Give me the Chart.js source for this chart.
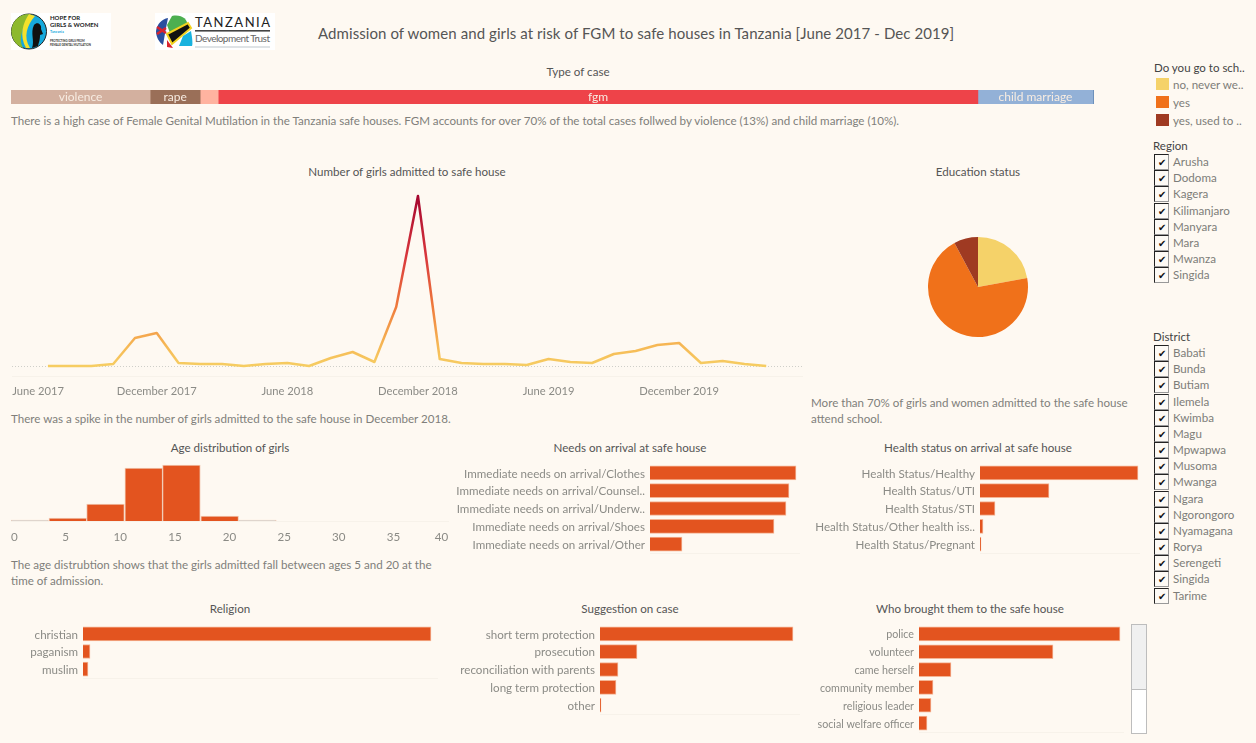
<!DOCTYPE html>
<html>
<head>
<meta charset="utf-8">
<script src="https://cdn.jsdelivr.net/npm/chart.js@4"></script>
<style>
    html, body { margin: 0; padding: 0; background: #fef9f2; }
    body { position: relative; width: 1256px; height: 743px; overflow: hidden; font-family: Lato, sans-serif; color: #7d7d79; font-size: 11.6px; }
    canvas { position: absolute; }
    .txt { position: absolute; white-space: nowrap; line-height: 16px; }
    .head { color: #555; font-size: 11.6px; transform: translateX(-50%); }
    .note { color: #807f7b; font-size: 11.6px; }
    .filterTitle { color: #444; font-size: 11.5px; }
    .swatch { position: absolute; left: 1156px; width: 13px; height: 12px; }
    .box { position: absolute; left: 1154px; width: 13px; height: 14px; border: 1px solid #222; border-right-color: #999; border-bottom-color: #999; background: #fdfaf5; color: #111; font-size: 10px; line-height: 14px; text-align: center; }
    #scrollbar { position: absolute; left: 1131px; top: 624px; width: 14px; height: 108px; border: 1px solid #bdbdbd; background: #fff; }
    #scrollthumb { height: 64px; background: #f0f0f0; border-bottom: 1px solid #bdbdbd; }
</style>
</head>
<body>
<svg style="position:absolute;left:11px;top:13px" width="100" height="37" viewBox="0 0 100 37">
    <rect width="100" height="37" fill="#fff"/>
    <circle cx="18" cy="18.5" r="17.5" fill="#16a9dc" stroke="#222" stroke-width="1"/>
    <path d="M18 1 A17.5 17.5 0 0 0 12 35 C6 24 14 12 18 1Z" fill="#8db92e"/>
    <path d="M18 1 C12 10 8 22 15 35 L19 35 C12 24 16 12 24 3Z" fill="#f5e12b"/>
    <path d="M21 35 C24 28 19 20 23 12 C26 8 31 11 30 16 L32 21 L29 22 C29 27 28 29 27 33Z" fill="#111"/>
    <text x="39" y="7" font-size="6" font-weight="700" fill="#222">HOPE FOR</text>
    <text x="39" y="14" font-size="6" font-weight="700" fill="#222">GIRLS &amp; WOMEN</text>
    <text x="39" y="20" font-size="3.6" font-weight="700" fill="#16a9dc">Tanzania</text>
    <text x="39" y="29" font-size="2.8" font-weight="700" fill="#333">PROTECTING GIRLS FROM</text>
    <text x="39" y="33" font-size="2.8" font-weight="700" fill="#333">FEMALE GENITAL MUTILATION</text>
</svg>
<svg style="position:absolute;left:155px;top:13px" width="120" height="37" viewBox="0 0 120 37">
    <rect width="120" height="37" fill="#fff"/>
    <path d="M17 3 C26 1 33 6 32 12 L15 20 L12 12Z" fill="#4caf50"/>
    <path d="M12 21 L33 10 L36 15 L17 31Z" fill="#111" stroke="#f2d21f" stroke-width="2"/>
    <path d="M28 23 L36 18 C37 24 38 30 37 33 L24 33Z" fill="#19b2de"/>
    <path d="M1 18 C2 11 7 6 13 5 L11 15 L8 32 C4 29 1 24 1 18Z" fill="#2b4f9e"/>
    <path d="M2 14 L11 20 M2 21 L11 15" stroke="#d8232f" stroke-width="2.5"/>
    <path d="M12 27 L18 35 L12 34Z" fill="#d8232f"/>
    <text x="40" y="14" font-size="13" fill="#222" textLength="75" font-family="Lato">TANZANIA</text>
    <rect x="40" y="17" width="75" height="1.6" fill="#444"/>
    <text x="40" y="29" font-size="10" fill="#666" textLength="75" font-family="Lato">Development Trust</text>
    <rect x="40" y="33" width="75" height="2" fill="#dfe3e6"/>
</svg>

<div class="txt" style="left:318px;top:24px;font-size:15px;line-height:18px;color:#555;letter-spacing:0.08px">Admission of women and girls at risk of FGM to safe houses in Tanzania [June 2017 - Dec 2019]</div>
<div class="txt head" style="left:578px;top:64px">Type of case</div>
<div class="txt note" style="left:11px;top:113px">There is a high case of Female Genital Mutilation in the Tanzania safe houses. FGM accounts for over 70% of the total cases follwed by violence (13%) and child marriage (10%).</div>
<div class="txt head" style="left:407px;top:164px">Number of girls admitted to safe house</div>
<div class="txt head" style="left:978px;top:164px">Education status</div>
<div class="txt note" style="left:11px;top:411px">There was a spike in the number of girls admitted to the safe house in December 2018.</div>
<div class="txt note" style="left:811px;top:395px">More than 70% of girls and women admitted to the safe house<br>attend school.</div>
<div class="txt head" style="left:230px;top:440px">Age distribution of girls</div>
<div class="txt head" style="left:630px;top:440px">Needs on arrival at safe house</div>
<div class="txt head" style="left:978px;top:440px">Health status on arrival at safe house</div>
<div class="txt note" style="left:11px;top:557px">The age distrubtion shows that the girls admitted fall between ages 5 and 20 at the<br>time of admission.</div>
<div class="txt head" style="left:230px;top:601px">Religion</div>
<div class="txt head" style="left:630px;top:601px">Suggestion on case</div>
<div class="txt head" style="left:970px;top:601px">Who brought them to the safe house</div>

<div id="filters"></div>
<div id="scrollbar"><div id="scrollthumb"></div></div>

<canvas id="caseBar" style="left:11px;top:90px" width="1083" height="14"></canvas>
<canvas id="lineChart" style="left:12px;top:189px" width="791" height="212"></canvas>
<canvas id="pieChart" style="left:918px;top:227px" width="120" height="120"></canvas>
<canvas id="ageChart" style="left:11px;top:460px" width="450" height="92"></canvas>
<canvas id="needsChart" style="left:450px;top:464px" width="350" height="90"></canvas>
<canvas id="healthChart" style="left:800px;top:464px" width="340" height="90"></canvas>
<canvas id="religionChart" style="left:0px;top:625px" width="438" height="54"></canvas>
<canvas id="suggestionChart" style="left:450px;top:625px" width="350" height="90"></canvas>
<canvas id="broughtChart" style="left:799px;top:625px" width="325" height="108"></canvas>

<script>
    const caseTypes = ["violence", "rape", "", "fgm", "child marriage", ""];
    const caseValues = [139, 50, 18, 759, 115, 1];
    const caseColors = ["#d3b09f", "#9a6f58", "#ffb3a0", "#ee4349", "#93b1d7", "#5b82ad"];

    const lineValues = [0, 0, 0, 1, 14, 16.5, 1.5, 1, 1, 0, 1, 1.5, 0, 4, 7, 2, 29.5, 85,
        3.5, 1.5, 1, 1, 0.5, 3.5, 2, 1.5, 6, 7.5, 10.5, 11.5, 1.5, 2.5, 1, 0];
    const lineTickMonths = [-0.45, 5, 11, 17, 23, 29];
    const lineTickLabels = ["June 2017", "December 2017", "June 2018", "December 2018", "June 2019", "December 2019"];

    const schoolLabels = ["no, never we..", "yes", "yes, used to .."];
    const schoolValues = [22.1, 70.1, 7.8];
    const schoolColors = ["#f5d269", "#f0711a", "#9f3a22"];

    const ageBinCenters = [1.7, 5.2, 8.65, 12.15, 15.6, 19.1, 22.55];
    const ageValues = [0, 3, 17, 53, 56, 5, 0];
    const ageTickPositions = [0.3, 5, 10, 15, 20, 25, 30, 35, 39.4];
    const ageTickLabels = ["0", "5", "10", "15", "20", "25", "30", "35", "40"];

    const needsLabels = ["Immediate needs on arrival/Clothes", "Immediate needs on arrival/Counsel..", "Immediate needs on arrival/Underw..", "Immediate needs on arrival/Shoes", "Immediate needs on arrival/Other"];
    const needsValues = [146, 139, 136, 124, 32];
    const healthLabels = ["Health Status/Healthy", "Health Status/UTI", "Health Status/STI", "Health Status/Other health iss..", "Health Status/Pregnant"];
    const healthValues = [158, 69, 15, 3, 1];
    const religionLabels = ["christian", "paganism", "muslim"];
    const religionValues = [348, 7, 5];
    const suggestionLabels = ["short term protection", "prosecution", "reconciliation with parents", "long term protection", "other"];
    const suggestionValues = [193, 37, 18, 16, 1];
    const broughtLabels = ["police", "volunteer", "came herself", "community member", "religious leader", "social welfare officer"];
    const broughtValues = [201, 134, 32, 14, 12, 8];

    const regions = ["Arusha", "Dodoma", "Kagera", "Kilimanjaro", "Manyara", "Mara", "Mwanza", "Singida"];
    const districts = ["Babati", "Bunda", "Butiam", "Ilemela", "Kwimba", "Magu", "Mpwapwa", "Musoma", "Mwanga", "Ngara", "Ngorongoro", "Nyamagana", "Rorya", "Serengeti", "Singida", "Tarime"];

    const barColor = "#e3541f";
    const faint = "#f7f2ea";
    const fontFamily = "Lato, sans-serif";

    Chart.defaults.animation = false;
    Chart.defaults.responsive = false;
    Chart.defaults.font.family = fontFamily;
    Chart.defaults.color = "#8b8b86";
    Chart.defaults.plugins.legend.display = false;
    Chart.defaults.plugins.tooltip.enabled = false;
    Chart.defaults.layout.padding = 0;

    // the layout reserves room for half a label at each axis end, we place things ourselves
    const noPadding = (axis) => {
        axis.paddingLeft = 0;
        axis.paddingRight = 0;
        axis.paddingTop = 0;
        axis.paddingBottom = 0;
    };

    // side panel: legend and the two filter lists
    const filters = document.getElementById("filters");
    const addText = (cls, text, left, top) => {
        const d = document.createElement("div");
        d.className = "txt " + cls;
        d.textContent = text;
        d.style.left = left + "px";
        d.style.top = top + "px";
        filters.appendChild(d);
    };
    addText("filterTitle", "Do you go to sch..", 1154, 60);
    schoolLabels.forEach((label, i) => {
        const s = document.createElement("div");
        s.className = "swatch";
        s.style.background = schoolColors[i];
        s.style.top = (78 + i * 18) + "px";
        filters.appendChild(s);
        addText("", label, 1173, 77 + i * 18);
    });
    const addList = (title, items, top) => {
        addText("filterTitle", title, 1153, top - 16);
        items.forEach((item, i) => {
            const y = top + i * 16.17;
            const b = document.createElement("div");
            b.className = "box";
            b.textContent = "✔";
            b.style.top = y + "px";
            filters.appendChild(b);
            addText("", item, 1173, y);
        });
    };
    addList("Region", regions, 154);
    addList("District", districts, 345);

    // white names inside the stacked bar
    const segmentLabels = {
        id: "segmentLabels",
        afterDatasetsDraw(chart) {
            const ctx = chart.ctx;
            ctx.save();
            ctx.font = "12px " + fontFamily;
            ctx.fillStyle = "#f7ece2";
            ctx.textAlign = "center";
            ctx.textBaseline = "middle";
            chart.data.datasets.forEach((ds, i) => {
                const bar = chart.getDatasetMeta(i).data[0];
                if (ds.label) ctx.fillText(ds.label, (bar.x + bar.base) / 2, bar.y + 0.5);
            });
            ctx.restore();
        },
    };

    new Chart(document.getElementById("caseBar"), {
        type: "bar",
        plugins: [segmentLabels],
        data: {
            labels: ["Type of case"],
            datasets: caseTypes.map((name, i) => ({
                label: name,
                data: [caseValues[i]],
                backgroundColor: caseColors[i],
                barPercentage: 1,
                categoryPercentage: 1,
            })),
        },
        options: {
            indexAxis: "y",
            scales: {
                x: { display: false, stacked: true, min: 0, max: caseValues.reduce((a, b) => a + b, 0) },
                y: { display: false, stacked: true },
            },
        },
    });

    new Chart(document.getElementById("lineChart"), {
        type: "line",
        data: {
            datasets: [{
                data: lineValues.map((v, i) => ({ x: i, y: v })),
                borderWidth: 2.5,
                borderJoinStyle: "round",
                pointRadius: 0,
                borderColor: (context) => {
                    const { ctx, scales, chartArea } = context.chart;
                    if (!chartArea) return "#f6c95f";
                    const g = ctx.createLinearGradient(0, scales.y.getPixelForValue(0), 0, scales.y.getPixelForValue(85));
                    g.addColorStop(0, "#f6cd62");
                    g.addColorStop(0.12, "#f6b855");
                    g.addColorStop(0.35, "#ef7b3c");
                    g.addColorStop(0.65, "#d8363c");
                    g.addColorStop(1, "#a5062f");
                    return g;
                },
            }],
        },
        options: {
            scales: {
                x: {
                    type: "linear",
                    min: -1.65,
                    max: 34.69,
                    afterBuildTicks: (axis) => { axis.ticks = lineTickMonths.map((m) => ({ value: m })); },
                    afterFit: (axis) => { axis.height = 25; noPadding(axis); },
                    grid: { display: false, drawTicks: false },
                    border: { color: faint },
                    ticks: {
                        autoSkip: false,
                        maxRotation: 0,
                        padding: 9,
                        font: { size: 11.2 },
                        callback: (v, i) => lineTickLabels[i],
                    },
                },
                y: {
                    min: -5,
                    max: 88.5,
                    afterBuildTicks: (axis) => { axis.ticks = [{ value: 0 }]; },
                    afterFit: (axis) => { axis.width = 0; noPadding(axis); },
                    ticks: { display: false },
                    border: { display: false, dash: [1, 2] },
                    grid: { color: "#cfcfc9", drawTicks: false },
                },
            },
        },
    });

    new Chart(document.getElementById("pieChart"), {
        type: "pie",
        data: {
            labels: schoolLabels,
            datasets: [{ data: schoolValues, backgroundColor: schoolColors, borderWidth: 0 }],
        },
        options: { radius: 50 },
    });

    new Chart(document.getElementById("ageChart"), {
        type: "bar",
        data: {
            datasets: [{
                data: ageBinCenters.map((c, i) => ({ x: c, y: ageValues[i] })),
                backgroundColor: ageValues.map((v) => (v ? barColor : "#d8d5cf")),
                borderColor: "#f1c9b3",
                borderWidth: { top: 1, left: 1, right: 1, bottom: 0 },
                minBarLength: 1,
                barPercentage: 1,
                categoryPercentage: 1,
            }],
        },
        options: {
            layout: { padding: { right: 13 } },
            scales: {
                x: {
                    type: "linear",
                    offset: false,
                    min: 0,
                    max: 40,
                    afterBuildTicks: (axis) => { axis.ticks = ageTickPositions.map((p) => ({ value: p })); },
                    afterFit: (axis) => { axis.height = 31; noPadding(axis); },
                    grid: { display: false, drawTicks: false },
                    border: { color: faint },
                    ticks: {
                        autoSkip: false,
                        maxRotation: 0,
                        padding: 9,
                        font: { size: 11.6 },
                        callback: (v, i) => ageTickLabels[i],
                    },
                },
                y: {
                    min: 0,
                    max: 61,
                    display: false,
                },
            },
        },
    });

    const hBar = (id, labels, values, axisWidth, areaWidth, fontSize) => new Chart(document.getElementById(id), {
        type: "bar",
        data: {
            labels: labels,
            datasets: [{
                data: values,
                backgroundColor: barColor,
                borderColor: "#f4b494",
                borderWidth: 1,
                barThickness: 14,
            }],
        },
        options: {
            indexAxis: "y",
            scales: {
                x: {
                    min: 0,
                    max: areaWidth,
                    afterFit: (axis) => { axis.height = 1; noPadding(axis); },
                    ticks: { display: false },
                    grid: { display: false, drawTicks: false },
                    border: { color: faint },
                },
                y: {
                    afterFit: (axis) => { axis.width = axisWidth; noPadding(axis); },
                    grid: { display: false, drawTicks: false },
                    border: { display: false },
                    ticks: { padding: 5, labelOffset: 1, autoSkip: false, font: { size: fontSize } },
                },
            },
            layout: { padding: { right: document.getElementById(id).width - axisWidth - areaWidth } },
        },
    });

    hBar("needsChart", needsLabels, needsValues, 200, 150, 11.6);
    hBar("healthChart", healthLabels, healthValues, 180, 160, 11.6);
    hBar("religionChart", religionLabels, religionValues, 83, 355, 11.6);
    hBar("suggestionChart", suggestionLabels, suggestionValues, 150, 200, 11.6);
    hBar("broughtChart", broughtLabels, broughtValues, 120, 205, 10.7);
</script>
</body>
</html>
